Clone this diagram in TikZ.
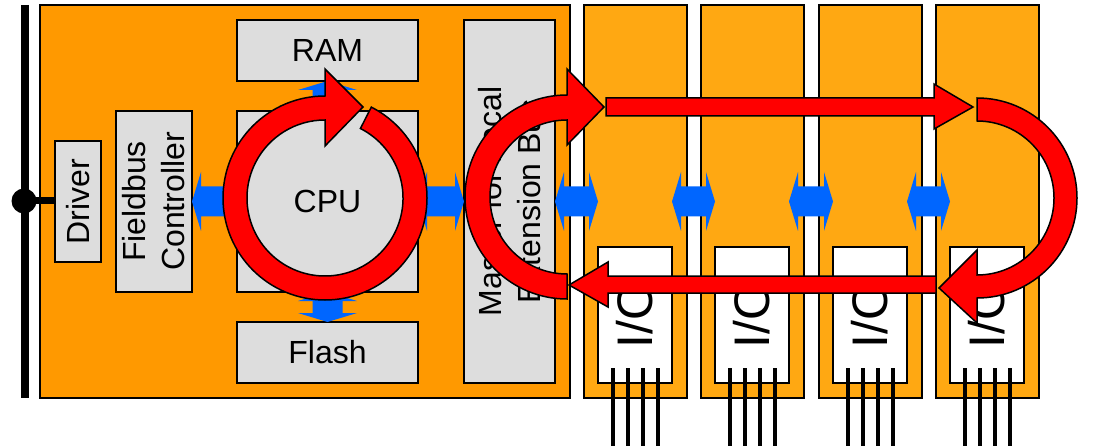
\documentclass[tikz,border=0pt]{standalone}
\usepackage{fontspec}
\setmainfont{Liberation Sans}
\usetikzlibrary{calc}
\definecolor{mainor}{HTML}{FF9900}
\definecolor{modor}{HTML}{FFA812}
\definecolor{boxgrey}{HTML}{DDDDDD}
\definecolor{bluec}{HTML}{0066FF}
\definecolor{redc}{HTML}{FF0000}
\newcommand\bluearrH[2]{%
  \fill[bluec] let \p1=#1, \p2=#2 in
    (\x1,\y1) -- (\x1+9pt,\y1+29.5pt) -- (\x1+9pt,\y1+15pt) -- (\x2-9pt,\y2+15pt)
    -- (\x2-9pt,\y2+29.5pt) -- (\x2,\y2) -- (\x2-9pt,\y2-29.5pt) -- (\x2-9pt,\y2-15pt)
    -- (\x1+9pt,\y1-15pt) -- (\x1+9pt,\y1-29.5pt) -- cycle;}
\newcommand\bluearrV[2]{%
  \fill[bluec] let \p1=#1, \p2=#2 in
    (\x1,\y1) -- (\x1+29.5pt,\y1-9pt) -- (\x1+15pt,\y1-9pt) -- (\x2+15pt,\y2+9pt)
    -- (\x2+29.5pt,\y2+9pt) -- (\x2,\y2) -- (\x2-29.5pt,\y2+9pt) -- (\x2-15pt,\y2+9pt)
    -- (\x1-15pt,\y1-9pt) -- (\x1-29.5pt,\y1-9pt) -- cycle;}
\begin{document}
\begin{tikzpicture}[x=1pt,y=-1pt,
  box/.style={draw=black, line width=1.5pt, inner sep=0pt, outer sep=0pt, anchor=north west},
  greybox/.style={box, fill=boxgrey},
  lbl/.style={font=\fontsize{32}{39}\selectfont, align=center, inner sep=0pt},
  iolbl/.style={font=\fontsize{50}{60}\selectfont, inner sep=0pt},
  redarr/.style={fill=redc, draw=black, line width=1.5pt, line join=miter},
  wire/.style={line width=4pt, black}]
\useasboundingbox (0,0) rectangle (1099,446);
% bus
\coordinate (bt) at (25,5);
\coordinate (bb) at (25,398);
\draw[line width=8pt] (bt) -- (bb);
% main module
\node[box, fill=mainor, minimum width=530pt, minimum height=393pt] (main) at (40,5) {};
\node[greybox, minimum width=46pt, minimum height=121pt] (driver) at (55,141) {};
\node[lbl, rotate=90] (driverT) at (driver.center) {Driver};
\node[greybox, minimum width=76pt, minimum height=181pt] (fbc) at (116,111) {};
\node[lbl, rotate=90] (fbcT) at (fbc.center) {Fieldbus\\Controller};
\node[greybox, lbl, minimum width=181pt, minimum height=61pt] (ram) at (237,20) {RAM};
\node[greybox, lbl, minimum width=181pt, minimum height=181pt] (cpu) at (237,111) {CPU};
\node[greybox, lbl, minimum width=181pt, minimum height=61pt] (flash) at (237,322) {Flash};
\node[greybox, minimum width=91pt, minimum height=363pt] (master) at (464,20) {};
\node[lbl, rotate=90] (masterT) at (master.center) {Master for Local\\Extension Bus};
% bus dot
\node[circle, fill=black, minimum size=25pt, inner sep=0pt] (dot) at (24,201) {};
\draw[line width=7pt] (dot.center) -- (driver.west |- dot.center);
% I/O modules
\foreach \xx [count=\i] in {584,701,819,936} {
  \node[box, fill=modor, minimum width=103pt, minimum height=393pt] (mod\i) at (\xx,5) {};
  \node[box, fill=white, minimum width=74pt, minimum height=136pt] (io\i) at (\xx+14,247) {};
  \node[iolbl, rotate=90] (io\i T) at (io\i.center) {I/O};
}
% blue arrows
\bluearrH{(fbc.east)}{(cpu.west)}
\bluearrH{(cpu.east)}{(master.west)}
\bluearrH{(master.east)}{(io1.west |- master.east)}
\bluearrH{(io1.east |- cpu.center)}{(io2.west |- cpu.center)}
\bluearrH{(io2.east |- cpu.center)}{(io3.west |- cpu.center)}
\bluearrH{(io3.east |- cpu.center)}{(io4.west |- cpu.center)}
\bluearrV{(ram.south)}{(cpu.north)}
\bluearrV{(cpu.south)}{(flash.north)}
% red arrows
\coordinate (c1) at (325,198);
\draw[redarr] ($(c1)+(90:102pt)$) arc[start angle=90, end angle=423, radius=102pt]
  -- ($(c1)+(63:78pt)$) arc[start angle=423, end angle=90, radius=78pt]
  -- (325,146) -- (363,107) -- (325,69) -- cycle;
\coordinate (c2) at (567,197);
\draw[redarr] ($(c2)+(270:102pt)$) arc[start angle=270, end angle=90, radius=102pt]
  -- (567,69) -- (604,107) -- (567,145) -- ($(c2)+(90:77pt)$)
  arc[start angle=90, end angle=270, radius=77pt] -- cycle;
\coordinate (c3) at (977,198);
\draw[redarr] ($(c3)+(90:100pt)$) arc[start angle=90, end angle=-90, radius=100pt]
  -- (977,323) -- (939,288) -- (977,250) -- ($(c3)+(-90:77pt)$)
  arc[start angle=-90, end angle=90, radius=77pt] -- cycle;
\draw[redarr] (606,98) -- (934,98) -- (934,84) -- (973,107) -- (934,129) -- (934,116) -- (606,116) -- cycle;
\draw[redarr] (936,276) -- (608,276) -- (608,262) -- (569,285) -- (608,307) -- (608,293) -- (936,293) -- cycle;
% wires
\foreach \i in {1,...,4} {
  \foreach \d in {15,30,45,60} {
    \draw[wire] ($(io\i.south west)+(\d,-15)$) -- ++(0,78);
  }
}
\end{tikzpicture}
\end{document}
